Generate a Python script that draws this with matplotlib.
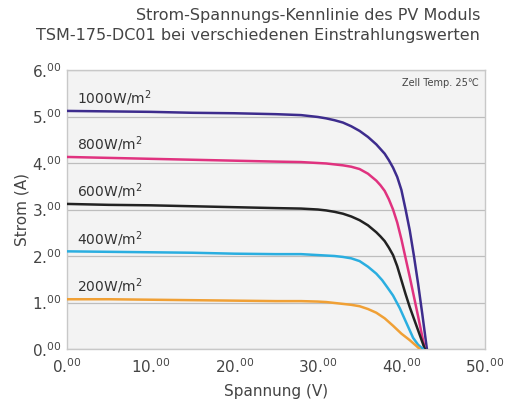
import matplotlib
matplotlib.use("Agg")
import matplotlib.pyplot as plt

# ---- data ----
labels = ["1000W/m$^2$", "800W/m$^2$", "600W/m$^2$", "400W/m$^2$", "200W/m$^2$"]
colors = ["#3d2c8d", "#e0327f", "#222222", "#2aaee0", "#f0a035"]

v1000 = [0, 5, 10, 15, 20, 25, 28, 30, 31, 32, 33, 34, 35, 36, 37, 38, 38.5, 39, 39.5, 40, 40.5, 41, 41.5, 42, 42.5, 43.05]
i1000 = [5.12, 5.11, 5.10, 5.08, 5.07, 5.05, 5.03, 4.99, 4.96, 4.92, 4.87, 4.79, 4.69, 4.56, 4.40, 4.20, 4.06, 3.90, 3.70, 3.42, 3.00, 2.55, 2.00, 1.40, 0.75, 0.0]

v800 = [0, 5, 10, 15, 20, 25, 28, 30, 31, 32, 33, 34, 35, 36, 37, 37.5, 38, 38.5, 39, 39.5, 40, 41, 42, 42.8]
i800 = [4.13, 4.11, 4.09, 4.07, 4.05, 4.03, 4.02, 4.00, 3.99, 3.97, 3.95, 3.92, 3.87, 3.77, 3.62, 3.52, 3.40, 3.22, 3.00, 2.72, 2.36, 1.55, 0.70, 0.0]

v600 = [0, 5, 10, 15, 20, 25, 28, 30, 31, 32, 33, 34, 35, 36, 37, 37.5, 38, 38.5, 39, 39.5, 40, 40.5, 41, 42, 42.8]
i600 = [3.12, 3.10, 3.09, 3.07, 3.05, 3.03, 3.02, 3.00, 2.98, 2.95, 2.91, 2.85, 2.77, 2.66, 2.51, 2.42, 2.32, 2.18, 2.02, 1.78, 1.48, 1.18, 0.90, 0.40, 0.0]

v400 = [0, 5, 10, 15, 20, 25, 28, 30, 31, 32, 33, 34, 35, 36, 37, 37.7, 38.3, 39, 39.8, 40.5, 41.4, 42, 42.6]
i400 = [2.10, 2.09, 2.08, 2.07, 2.05, 2.04, 2.04, 2.02, 2.01, 2.00, 1.98, 1.95, 1.89, 1.77, 1.62, 1.48, 1.33, 1.15, 0.88, 0.60, 0.24, 0.09, 0.0]

v200 = [0, 5, 10, 15, 20, 25, 28, 30, 31, 32, 33, 34, 35, 36, 37, 38, 39, 40, 41, 41.7, 42.2]
i200 = [1.07, 1.07, 1.06, 1.05, 1.04, 1.03, 1.03, 1.02, 1.01, 0.99, 0.97, 0.95, 0.92, 0.86, 0.78, 0.66, 0.50, 0.33, 0.19, 0.08, 0.0]

series_v = [v1000, v800, v600, v400, v200]
series_i = [i1000, i800, i600, i400, i200]

xticks = [0, 10, 20, 30, 40, 50]
yticks = [0, 1, 2, 3, 4, 5, 6]
xtick_labels = ["0.$^{00}$", "10.$^{00}$", "20.$^{00}$", "30.$^{00}$", "40.$^{00}$", "50.$^{00}$"]
ytick_labels = ["0.$^{00}$", "1.$^{00}$", "2.$^{00}$", "3.$^{00}$", "4.$^{00}$", "5.$^{00}$", "6.$^{00}$"]

title_lines = ["Strom-Spannungs-Kennlinie des PV Moduls",
               "TSM-175-DC01 bei verschiedenen Einstrahlungswerten"]

# ---- figure ----
fig = plt.figure(figsize=(5.05, 4.07), dpi=100, facecolor="white")
ax = fig.add_axes([0.1327, 0.1425, 0.8277, 0.6855])
ax.set_facecolor("#f3f3f3")

txtc = "#444444"
for v, i, c in zip(series_v, series_i, colors):
    ax.plot(v, i, color=c, lw=1.8, solid_capstyle="round",
            solid_joinstyle="round", zorder=3)

for v, i, lab in zip(series_v, series_i, labels):
    ax.text(1.2, i[0] + 0.06, lab, fontsize=10, color="#333333",
            ha="left", va="bottom", zorder=4)

ax.set_xlim(0, 50)
ax.set_ylim(0, 6)
ax.set_xticks(xticks)
ax.set_xticklabels(xtick_labels)
ax.set_yticks(yticks)
ax.set_yticklabels(ytick_labels)
ax.tick_params(axis="both", length=0, labelsize=11, labelcolor=txtc)
ax.tick_params(axis="x", pad=6)
ax.tick_params(axis="y", pad=4)

ax.yaxis.grid(True, color="#bdbdbd", lw=0.9)
ax.xaxis.grid(False)
ax.set_axisbelow(True)
for s in ax.spines.values():
    s.set_color("#c8c8c8")
    s.set_linewidth(1.0)

ax.set_xlabel("Spannung (V)", fontsize=11, color=txtc, labelpad=6)
ax.set_ylabel("Strom (A)", fontsize=11, color=txtc, labelpad=2)

ax.text(0.985, 0.955, "Zell Temp. 25℃", transform=ax.transAxes, fontsize=7,
        color=txtc, ha="right", va="center")

fig.text(0.951, 0.962, title_lines[0], fontsize=11.5, color=txtc, ha="right", va="center")
fig.text(0.951, 0.912, title_lines[1], fontsize=11.5, color=txtc, ha="right", va="center")

fig.savefig("out.png", dpi=100, facecolor="white")
